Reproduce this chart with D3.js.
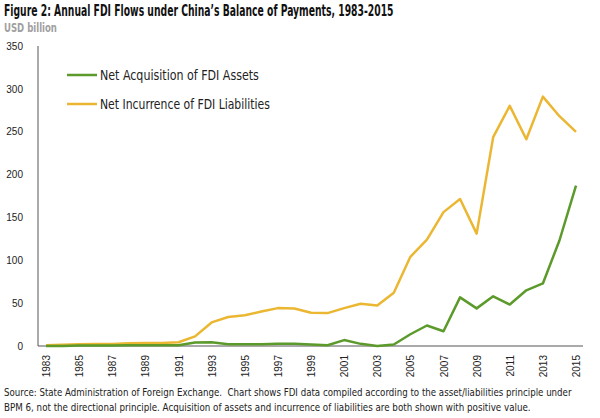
<!DOCTYPE html>
<html>
<head>
<meta charset="utf-8">
<script src="https://d3js.org/d3.v7.min.js"></script>
<style>
  body {margin: 0; background: #fff;}
  svg {font-family: "Liberation Sans Narrow", "DejaVu Sans Condensed", "Roboto", sans-serif;}
  .tick text {fill: #222;}
</style>
</head>
<body>
<svg id="chart" width="600" height="418"></svg>
<script>
// years and values in USD billion
var years = d3.range(1983, 2016);
var assets = [0.1, 0.1, 0.6, 0.5, 0.6, 0.9, 0.8, 0.8, 0.9, 4.0, 4.4, 2.0, 2.0, 2.1, 2.6, 2.6, 1.8, 0.9,
              6.9, 2.5, 0.1, 1.8, 13.7, 23.9, 17.2, 56.7, 43.9, 58.0, 48.4, 65.0, 73.0, 123.1, 187.2];
var liabilities = [0.9, 1.4, 2.0, 2.2, 2.3, 3.2, 3.4, 3.5, 4.4, 11.2, 27.5, 33.8, 35.8, 40.2, 44.2, 43.8, 38.8, 38.4,
                   44.2, 49.3, 47.2, 62.1, 104.1, 124.1, 156.2, 171.5, 131.1, 243.7, 280.1, 241.2, 290.9, 268.1, 249.9];
var yTicks = [0, 50, 100, 150, 200, 250, 300, 350];
var xTicks = d3.range(1983, 2016, 2);
var seriesNames = ["Net Acquisition of FDI Assets", "Net Incurrence of FDI Liabilities"];
var seriesColors = ["#5b9a2b", "#ebb733"];

var svg = d3.select("#chart");

var x = d3.scaleLinear().domain([1983, 2015]).range([46, 576]);
var y = d3.scaleLinear().domain([0, 350]).range([346, 46]);

// squeeze a text horizontally so it spans the wanted width
function fitWidth(sel, w) {
  var tx = +sel.attr("x"), ty = +sel.attr("y");
  var len = sel.node().getComputedTextLength();
  var sx = len > 0 ? w / len : 1;
  sel.attr("x", 0).attr("y", 0)
     .attr("transform", "translate(" + tx + "," + ty + ") scale(" + sx.toFixed(3) + ",1)");
}

// title
svg.append("text").attr("x", 4).attr("y", 16)
   .attr("font-size", 16).attr("font-weight", "bold").attr("fill", "#111")
   .text("Figure 2: Annual FDI Flows under China\u2019s Balance of Payments, 1983-2015")
   .call(fitWidth, 390);
svg.append("text").attr("x", 4).attr("y", 32)
   .attr("font-size", 12.5).attr("font-weight", "bold").attr("fill", "#a0a0a0")
   .text("USD billion")
   .call(fitWidth, 53);

// y axis
var yAxis = svg.append("g").attr("transform", "translate(38,0)")
  .call(d3.axisLeft(y).tickValues(yTicks).tickSize(0).tickPadding(15));
yAxis.select(".domain").attr("stroke", "#555").attr("d", "M0," + (y(350)) + "V" + y(0));
yAxis.selectAll(".tick text").attr("font-size", 10).attr("font-family", null);

// x axis
var xAxis = svg.append("g").attr("transform", "translate(0," + y(0) + ")")
  .call(d3.axisBottom(x).tickValues(xTicks).tickFormat(d3.format("d")).tickSize(0));
xAxis.select(".domain").attr("stroke", "#555").attr("d", "M38,0H583");
xAxis.selectAll(".tick text")
  .attr("font-size", 10).attr("font-family", null)
  .attr("transform", "rotate(-90)")
  .attr("text-anchor", "end")
  .attr("x", -9).attr("y", 0).attr("dy", "0.35em");

// lines
var line = d3.line().x(function(d, i) { return x(years[i]); }).y(function(d) { return y(d); });
[liabilities, assets].forEach(function(s, k) {
  svg.append("path").datum(s)
     .attr("fill", "none")
     .attr("stroke", k === 0 ? seriesColors[1] : seriesColors[0])
     .attr("stroke-width", 2.5)
     .attr("stroke-linejoin", "round")
     .attr("d", line);
});

// legend
var legendWidths = [159, 170];
seriesNames.forEach(function(name, i) {
  var ly = 75 + i * 29;
  svg.append("line").attr("x1", 67).attr("x2", 97).attr("y1", ly).attr("y2", ly)
     .attr("stroke", seriesColors[i]).attr("stroke-width", 2.5);
  svg.append("text").attr("x", 100).attr("y", ly + 5)
     .attr("font-size", 13.5).attr("fill", "#222")
     .text(name)
     .call(fitWidth, legendWidths[i]);
});

// source note
var notes = ["Source: State Administration of Foreign Exchange.  Chart shows FDI data compiled according to the asset/liabilities principle under",
             "BPM 6, not the directional principle. Acquisition of assets and incurrence of liabilities are both shown with positive value."];
var noteWidths = [568, 527];
notes.forEach(function(t, i) {
  svg.append("text").attr("x", 4).attr("y", 396 + i * 15)
     .attr("font-size", 11).attr("fill", "#222")
     .style("white-space", "pre")
     .text(t)
     .call(fitWidth, noteWidths[i]);
});
</script>
</body>
</html>
